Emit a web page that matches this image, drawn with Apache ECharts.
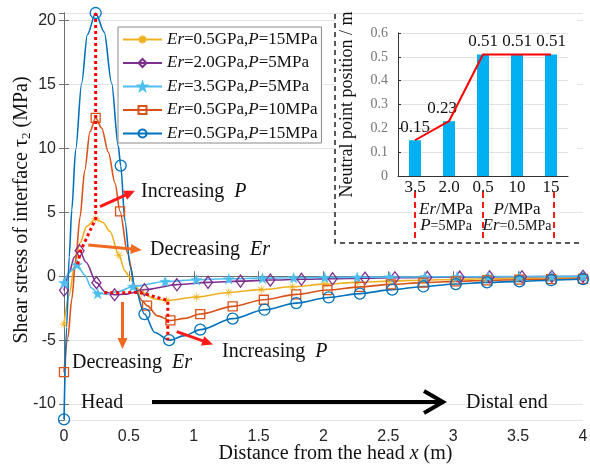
<!DOCTYPE html>
<html><head><meta charset="utf-8">
<script src="https://cdn.jsdelivr.net/npm/echarts@6/dist/echarts.min.js"></script>
<style>html,body{margin:0;padding:0;background:#fff}#c{width:590px;height:466px}</style>
</head><body><div id="c"></div>
<script>
// ---------- data ----------
const seriesNames = ['Er=0.5GPa,P=15MPa', 'Er=2.0GPa,P=5MPa', 'Er=3.5GPa,P=5MPa', 'Er=0.5GPa,P=10MPa', 'Er=0.5GPa,P=15MPa\u200b'];

const yellowX = [0,0.04,0.08,0.123,0.175,0.244,0.3,0.355,0.423,0.47,0.508,0.547,0.6,0.7,0.79,1.02,1.27,1.52,1.76,2.01,2.26,2.51,2.76,3.0,3.25,3.5,3.75,4.0];
const yellowY = [-3.75,-1.5,0.8,2.6,3.9,4.5,4.2,3.5,1.65,0.4,-0.1,-0.75,-1.3,-1.78,-1.9,-1.63,-1.27,-1.05,-0.82,-0.62,-0.48,-0.38,-0.31,-0.25,-0.2,-0.17,-0.14,-0.12];
const yellowMk = [1,0,0,0,0,1,0,0,1,0,0,0,1,0,1,1,1,1,1,1,1,1,1,1,1,1,1,1];

const purpleX = [0,0.04,0.08,0.12,0.17,0.25,0.32,0.39,0.47,0.62,0.87,1.11,1.36,1.59,1.83,2.07,2.32,2.55,2.80,3.05,3.28,3.53,3.76,4.0];
const purpleY = [-1.1,0.3,1.5,2.0,1.1,-0.5,-1.25,-1.45,-1.4,-1.05,-0.66,-0.48,-0.38,-0.3,-0.24,-0.19,-0.15,-0.12,-0.09,-0.07,-0.05,-0.04,-0.02,-0.01];
const purpleMk = [1,0,0,1,0,1,0,1,0,1,1,1,1,1,1,1,1,1,1,1,1,1,1,1];

const cyanX = [0,0.05,0.1,0.16,0.21,0.26,0.33,0.42,0.53,0.78,1.02,1.27,1.53,1.77,2.01,2.26,2.51,2.78,3.03,3.27,3.51,3.76,4.0];
const cyanY = [-0.5,0.4,0.9,0.1,-0.9,-1.35,-1.4,-1.2,-0.8,-0.41,-0.27,-0.2,-0.15,-0.12,-0.1,-0.08,-0.06,-0.05,-0.04,-0.03,-0.02,-0.01,0];
const cyanMk = [1,0,1,0,0,1,0,0,1,1,1,1,1,1,1,1,1,1,1,1,1,1,1];

const orangeX = [0,0.03,0.06,0.09,0.123,0.16,0.2,0.244,0.29,0.342,0.393,0.432,0.49,0.547,0.6,0.64,0.72,0.82,0.93,1.05,1.30,1.54,1.79,2.03,2.28,2.52,2.77,3.02,3.26,3.51,3.755,4.0];
const orangeY = [-7.5,-4.8,-1.8,1.3,4.6,8.3,11.3,12.4,11.6,9.7,7.3,5.07,1.8,-0.85,-1.9,-2.3,-3.1,-3.46,-3.3,-2.96,-2.36,-1.84,-1.42,-1.08,-0.83,-0.64,-0.50,-0.40,-0.33,-0.27,-0.23,-0.2];
const orangeMk = [1,0,0,0,0,0,0,1,0,0,0,1,0,0,0,1,0,1,0,1,1,1,1,1,1,1,1,1,1,1,1,1];

const blueX = [0,0.02,0.04,0.06,0.09,0.136,0.18,0.244,0.31,0.367,0.418,0.437,0.47,0.51,0.547,0.62,0.7,0.81,0.93,1.05,1.30,1.545,1.79,2.04,2.28,2.53,2.77,3.02,3.26,3.51,3.755,4.0];
const blueY = [-11.2,-4.0,1.5,5.2,9.9,15.1,18.9,20.6,19.1,15.1,10.2,8.66,4.3,0.8,-0.9,-2.96,-4.4,-5.0,-4.65,-4.18,-3.32,-2.62,-2.10,-1.66,-1.36,-1.05,-0.80,-0.61,-0.48,-0.40,-0.31,-0.22];
const blueMk = [1,0,0,0,0,0,0,1,0,0,0,1,0,0,0,1,0,1,0,1,1,1,1,1,1,1,1,1,1,1,1,1];

const peakGuideX = [0.244,0.244,0.128,0.105];
const peakGuideY = [20.6,4.5,2.0,0.9];
const valleyGuideX = [0.31,0.586,0.8,0.8];
const valleyGuideY = [-1.3,-1.27,-1.9,-5.0];

const insetCats = ['3.5','2.0','0.5','10','15'];
const insetVals = [0.15,0.23,0.51,0.51,0.51];

// ---------- chart ----------
const F = 'Liberation Serif';
const AX = '#707070';
const star8 = 'path://M10,0 L1.85,0.77 L7.07,7.07 L0.77,1.85 L0,10 L-0.77,1.85 L-7.07,7.07 L-1.85,0.77 L-10,0 L-1.85,-0.77 L-7.07,-7.07 L-0.77,-1.85 L0,-10 L0.77,-1.85 L7.07,-7.07 L1.85,-0.77 Z';
const star5 = 'path://M0,-10 L2.35,-3.24 L9.51,-3.09 L3.8,1.24 L5.88,8.09 L0,4 L-5.88,8.09 L-3.8,1.24 L-9.51,-3.09 L-2.35,-3.24 Z';

function curve(name, xs, ys, mk, color, symbol, size, hollow) {
  return {
    type: 'line', name, xAxisIndex: 0, yAxisIndex: 0,
    smooth: 0.3, smoothMonotone: 'x',
    symbol, symbolSize: size, showSymbol: true,
    lineStyle: { color, width: 1.6 },
    itemStyle: hollow ? { color: 'rgba(255,255,255,0)', borderColor: color, borderWidth: 1.3 }
                      : { color, borderColor: color, borderWidth: 0.3 },
    data: xs.map((x, i) => mk[i] ? [x, ys[i]] : { value: [x, ys[i]], symbol: 'none' }),
    z: 2, animation: false, emphasis: { disabled: true }
  };
}
function guide(xs, ys) {
  return {
    type: 'line', xAxisIndex: 0, yAxisIndex: 0, symbol: 'none',
    lineStyle: { color: '#ff0000', width: 3, type: [3, 3] },
    data: xs.map((x, i) => [x, ys[i]]), z: 5, animation: false, silent: true
  };
}
function arrow(x1, y1, x2, y2, color, lw, hl, hw) {
  const a = Math.atan2(y2 - y1, x2 - x1), c = Math.cos(a), s = Math.sin(a);
  const bx = x2 - hl * c, by = y2 - hl * s;
  return [
    { type: 'line', z: 6, shape: { x1, y1, x2: bx + c, y2: by + s }, style: { stroke: color, lineWidth: lw } },
    { type: 'polygon', z: 6, shape: { points: [[x2, y2], [bx - hw * s, by + hw * c], [bx + hw * s, by - hw * c]] }, style: { fill: color } }
  ];
}
const rich20 = {
  n: { fontFamily: F, fontSize: 20, fill: '#111' },
  i: { fontFamily: F, fontSize: 20, fontStyle: 'italic', fill: '#111' }
};
function txt(x, y, text, align) {
  return { type: 'text', z: 6, x, y, style: { text, rich: rich20, align: align || 'left', verticalAlign: 'middle', fontFamily: F, fontSize: 20, fill: '#111' } };
}
const richIn = {
  n: { fontFamily: F, fontSize: 17, fill: '#111' },
  i: { fontFamily: F, fontSize: 17, fontStyle: 'italic', fill: '#111' },
  s: { fontFamily: F, fontSize: 14, fill: '#111' }
};
function txtIn(x, y, text) {
  return { type: 'text', z: 6, x, y, style: { text, rich: richIn, align: 'center', verticalAlign: 'middle', fontFamily: F, fontSize: 17, fill: '#111' } };
}

const red = '#ff1a1a', org = '#f26a21';
const graphics = [
  { type: 'rect', z: 1, shape: { x: 336, y: 15, width: 241, height: 176 }, style: { fill: '#fff' } },
  { type: 'rect', z: 1, shape: { x: 412, y: 196, width: 148, height: 42 }, style: { fill: '#fff' } },
  { type: 'polyline', z: 6, shape: { points: [[335, 14], [335, 243], [583, 243]] }, style: { stroke: '#222', lineWidth: 1.5, lineDash: [5, 4], fill: null } },
  { type: 'line', z: 6, shape: { x1: 415, y1: 192, x2: 415, y2: 240 }, style: { stroke: red, lineWidth: 2, lineDash: [6, 4] } },
  { type: 'line', z: 6, shape: { x1: 483, y1: 192, x2: 483, y2: 240 }, style: { stroke: red, lineWidth: 2, lineDash: [6, 4] } },
  { type: 'line', z: 6, shape: { x1: 554, y1: 192, x2: 554, y2: 240 }, style: { stroke: red, lineWidth: 2, lineDash: [6, 4] } },
  txtIn(446, 210, '{i|Er}{n|/MPa}'),
  txtIn(446, 226, '{i|P}{s|=5MPa}'),
  txtIn(517, 210, '{i|P}{n|/MPa}'),
  txtIn(517, 226, '{i|Er}{s|=0.5MPa}'),
  ...arrow(100, 206.7, 135, 190.7, red, 3, 11, 5),
  txt(141, 191.5, '{n|Increasing  }{i|P}'),
  ...arrow(88.3, 245, 141.7, 250, org, 3, 11, 5),
  txt(150, 250, '{n|Decreasing  }{i|Er}'),
  ...arrow(122.5, 302, 122.5, 349, org, 3, 11, 5),
  txt(72, 362.5, '{n|Decreasing  }{i|Er}'),
  ...arrow(176.7, 331.7, 213, 344.5, red, 3, 11, 5),
  txt(222, 352, '{n|Increasing  }{i|P}'),
  { type: 'line', z: 6, shape: { x1: 152, y1: 402, x2: 441, y2: 402 }, style: { stroke: '#000', lineWidth: 4 } },
  { type: 'polyline', z: 6, shape: { points: [[424, 391], [443, 402], [424, 413]] }, style: { stroke: '#000', lineWidth: 4, fill: null } },
  txt(81, 403, '{n|Head}'),
  txt(466, 403, '{n|Distal end}')
];

const mainY = { min: -11.25, max: 20.6 };
const option = {
  backgroundColor: '#fff',
  animation: false,
  grid: [
    { left: 64, right: 7, top: 13, bottom: 46, outerBoundsMode: 'none', containLabel: false },
    { left: 398, right: 22, top: 33, height: 143, outerBoundsMode: 'none', containLabel: false }
  ],
  legend: {
    data: seriesNames, orient: 'vertical', left: 118, top: 27,
    itemWidth: 39, itemHeight: 10, itemGap: 6.5, padding: [4, 4, 1, 4],
    borderColor: '#8a8a8a', borderWidth: 1, backgroundColor: '#fff',
    textStyle: { fontFamily: F, fontSize: 17, color: '#111', lineHeight: 17,
      rich: { i: { fontFamily: F, fontSize: 17, fontStyle: 'italic', color: '#111', lineHeight: 17 } } },
    formatter: n => n.replace('\u200b', '').replace('Er', '{i|Er}').replace(',P', ',{i|P}'),
    selectedMode: false, z: 4
  },
  xAxis: [
    { type: 'value', gridIndex: 0, min: 0, max: 4, interval: 0.5, position: 'bottom',
      axisLine: { show: true, lineStyle: { color: AX } },
      axisTick: { inside: true, length: 5, lineStyle: { color: AX } },
      axisLabel: { fontFamily: 'Liberation Sans', fontSize: 16, color: '#262626', margin: 9 },
      splitLine: { show: false },
      name: '{n|Distance from the head }{i|x}{n| (m)}', nameLocation: 'middle', nameGap: 24, nameMoveOverlap: false,
      nameTextStyle: { padding: [0, 0, 0, 24], rich: {
        n: { fontFamily: F, fontSize: 20, color: '#111' },
        i: { fontFamily: F, fontSize: 20, fontStyle: 'italic', color: '#111' } } } },
    { type: 'value', gridIndex: 0, min: 0, max: 4, interval: 0.5, position: 'top',
      axisLine: { show: true, lineStyle: { color: AX } },
      axisTick: { inside: true, length: 5, lineStyle: { color: AX } },
      axisLabel: { show: false }, splitLine: { show: false } },
    { type: 'category', gridIndex: 1, data: insetCats, z: 5,
      axisLine: { show: true, lineStyle: { color: '#333' } },
      axisTick: { show: false },
      axisLabel: { fontFamily: F, fontSize: 17, color: '#111', margin: 3 } }
  ],
  yAxis: [
    { type: 'value', gridIndex: 0, min: mainY.min, max: mainY.max, splitNumber: 6, position: 'left',
      axisLine: { show: true, lineStyle: { color: AX } },
      axisTick: { inside: true, length: 5, lineStyle: { color: AX } },
      axisLabel: { fontFamily: 'Liberation Sans', fontSize: 16, color: '#262626', margin: 8, showMinLabel: false, showMaxLabel: false },
      splitLine: { show: true, lineStyle: { color: '#e4e4e4' } },
      name: '{n|Shear stress of interface τ}{s|2}{n| (MPa)}', nameLocation: 'middle', nameGap: 31, nameMoveOverlap: false,
      nameTextStyle: { padding: [0, 0, 0, 13], rich: {
        n: { fontFamily: F, fontSize: 20, color: '#111', lineHeight: 22 },
        s: { fontFamily: F, fontSize: 13, color: '#111', verticalAlign: 'bottom', lineHeight: 22 } } } },
    { type: 'value', gridIndex: 0, min: mainY.min, max: mainY.max, splitNumber: 6, position: 'right',
      axisLine: { show: true, lineStyle: { color: AX } },
      axisTick: { inside: true, length: 5, lineStyle: { color: AX } },
      axisLabel: { show: false, showMinLabel: false, showMaxLabel: false }, splitLine: { show: false } },
    { type: 'value', gridIndex: 1, min: 0, max: 0.6, interval: 0.1, z: 5,
      axisLine: { show: true, lineStyle: { color: '#333' } },
      axisTick: { show: true, inside: true, length: 3, lineStyle: { color: '#333' } },
      axisLabel: { fontFamily: F, fontSize: 14, color: '#777', margin: 10 },
      splitLine: { show: true, lineStyle: { color: '#e2e2e2' } },
      name: 'Neutral point position / m', nameLocation: 'middle', nameGap: 42, nameMoveOverlap: false,
      nameTextStyle: { fontFamily: F, fontSize: 18, color: '#111' } }
  ],
  series: [
    curve(seriesNames[0], yellowX, yellowY, yellowMk, '#EDB120', star8, 9, false),
    curve(seriesNames[1], purpleX, purpleY, purpleMk, '#7E2F8E', 'diamond', [9, 12], true),
    curve(seriesNames[2], cyanX, cyanY, cyanMk, '#4DBEEE', star5, 11, false),
    curve(seriesNames[3], orangeX, orangeY, orangeMk, '#D95319', 'rect', 9, true),
    curve(seriesNames[4], blueX, blueY, blueMk, '#0072BD', 'circle', 11, true),
    guide(peakGuideX, peakGuideY),
    guide(valleyGuideX, valleyGuideY),
    { type: 'bar', xAxisIndex: 2, yAxisIndex: 2, barWidth: 12, z: 6,
      itemStyle: { color: '#00B0F0' },
      label: { show: true, position: 'top', distance: 4, fontFamily: F, fontSize: 17, color: '#111',
        formatter: p => p.value.toFixed(2) },
      data: insetVals.map((v, i) => i === 1 ? { value: v, label: { offset: [-7, 0] } } : v) },
    { type: 'line', xAxisIndex: 2, yAxisIndex: 2, symbol: 'none', z: 7,
      lineStyle: { color: '#ff0000', width: 2 }, data: insetVals }
  ],
  graphic: { elements: graphics }
};
const chart = echarts.init(document.getElementById('c'), null, { renderer: 'canvas' });
chart.setOption(option);
</script></body></html>
